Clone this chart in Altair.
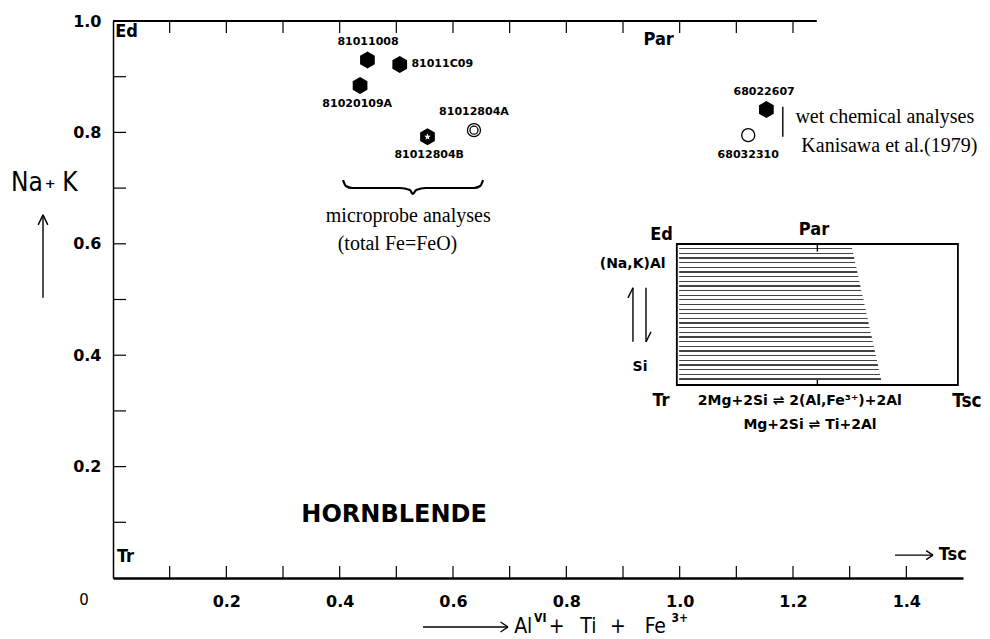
import altair as alt
import pandas as pd

# ---------------- axes ----------------
x_domain = [0.0, 1.5]
y_domain = [0.0, 1.0]
x_label_values = [0.2, 0.4, 0.6, 0.8, 1.0, 1.2, 1.4]
y_label_values = [0.2, 0.4, 0.6, 0.8, 1.0]
bottom_tick_values = [0.1, 0.2, 0.3, 0.4, 0.5, 0.6, 0.7, 0.8, 0.9, 1.0, 1.1, 1.2, 1.3, 1.4]
top_tick_values = [0.1, 0.2, 0.3, 0.4, 0.5, 0.6, 0.7, 0.8, 0.9, 1.0, 1.1, 1.2]
left_tick_values = [0.1, 0.2, 0.3, 0.4, 0.5, 0.6, 0.7, 0.8, 0.9]

# ---------------- samples ----------------
sample_ids = ["81011008", "81011C09", "81020109A", "81012804B", "81012804A", "68022607", "68032310"]
sample_x = [0.449, 0.506, 0.436, 0.555, 0.637, 1.153, 1.121]
sample_y = [0.930, 0.922, 0.884, 0.792, 0.804, 0.841, 0.795]
sample_kind = ["hex", "hex", "hex", "hexstar", "dcircle", "hex", "circle"]
sample_label_x = [0.450, 0.581, 0.431, 0.558, 0.637, 1.149, 1.121]
sample_label_y = [0.962, 0.922, 0.851, 0.759, 0.836, 0.873, 0.759]

# ---------------- annotation texts ----------------
corner_text = ["Ed", "Par", "Tr", "Tsc", "Ed", "Par", "Tr"]
corner_x = [0.024, 0.963, 0.022, 1.482, 0.968, 1.237, 0.967]
corner_y = [0.981, 0.965, 0.037, 0.041, 0.616, 0.625, 0.317]

inset_tsc_text = ["Tsc"]
inset_tsc_x = [1.507]
inset_tsc_y = [0.317]

inset_text = ["(Na,K)Al", "Si", "2Mg+2Si \u21cc 2(Al,Fe\u00b3\u207a)+2Al", "Mg+2Si \u21cc Ti+2Al"]
inset_x = [0.917, 0.930, 1.212, 1.230]
inset_y = [0.563, 0.379, 0.317, 0.275]

serif_text = ["microprobe analyses", "(total Fe=FeO)", "wet chemical analyses", "Kanisawa et al.(1979)"]
serif_x = [0.521, 0.502, 1.362, 1.370]
serif_y = [0.650, 0.600, 0.828, 0.776]

mineral_text = ["HORNBLENDE"]
mineral_x = [0.496]
mineral_y = [0.113]

xtitle_text = ["Al", "+", "Ti", "+", "Fe"]
xtitle_x = [0.724, 0.783, 0.839, 0.891, 0.957]
xtitle_y = [-0.088, -0.088, -0.088, -0.088, -0.088]
xsup_text = ["VI", "3+"]
xsup_x = [0.754, 1.000]
xsup_y = [-0.071, -0.071]

ytitle_text = ["Na", "K"]
ytitle_x = [-0.152, -0.076]
ytitle_y = [0.710, 0.710]
yplus_text = ["+"]
yplus_x = [-0.111]
yplus_y = [0.708]

origin_text = ["0"]
origin_x = [-0.051]
origin_y = [-0.039]

# ---------------- annotation strokes (data units) ----------------
seg_x1 = [-0.1235, -0.132, -0.115, 0.547, 0.684, 0.684, 1.380, 1.435, 1.435,
          0.9176, 0.9088, 0.9406, 0.9494, 1.182, 1.243, 1.243]
seg_y1 = [0.503, 0.634, 0.634, -0.088, -0.079, -0.097, 0.041, 0.049, 0.033,
          0.424, 0.503, 0.521, 0.442, 0.846, 0.600, 0.3465]
seg_x2 = [-0.1235, -0.1235, -0.1235, 0.697, 0.697, 0.697, 1.447, 1.447, 1.447,
          0.9176, 0.9176, 0.9406, 0.9406, 1.182, 1.243, 1.243]
seg_y2 = [0.652, 0.652, 0.652, -0.088, -0.088, -0.088, 0.041, 0.041, 0.041,
          0.521, 0.521, 0.424, 0.424, 0.792, 0.586, 0.3555]

top_border_x = [0.0]
top_border_x2 = [1.242]
top_border_y = [1.0]

brace_x = [0.406, 0.411, 0.422, 0.506, 0.524, 0.529, 0.535, 0.552, 0.637, 0.648, 0.653]
brace_y = [0.7145, 0.7038, 0.7002, 0.7002, 0.6966, 0.6894, 0.6966, 0.7002, 0.7002, 0.7038, 0.7145]

inset_box = {"x": [0.995], "x2": [1.491], "y": [0.3465], "y2": [0.5996]}
hatch_y = [0.5925, 0.3501]
hatch_left = [0.999, 0.999]
hatch_right = [1.304, 1.357]
hatch_lines = 29

# ---------------- helpers ----------------
SANS = "DejaVu Sans"
NARROW = "'Liberation Sans Narrow', 'DejaVu Sans Condensed', 'Liberation Sans'"
SERIF = "Liberation Serif"

XS = alt.Scale(domain=x_domain, nice=False, zero=False)
YS = alt.Scale(domain=y_domain, nice=False, zero=False)
XAXIS = alt.Axis(
    values=x_label_values, format=".1f", ticks=False, tickSize=0, grid=False,
    domainColor="black", domainWidth=2.3, labelFont=SANS, labelFontWeight="bold",
    labelFontSize=16, labelColor="black", labelPadding=15, labelFlush=False,
    labelOverlap=False, title=None)
YAXIS = alt.Axis(
    values=y_label_values, format=".1f", ticks=False, tickSize=0, grid=False,
    domainColor="black", domainWidth=1.5, labelFont=SANS, labelFontWeight="bold",
    labelFontSize=16, labelColor="black", labelPadding=12, labelFlush=False,
    labelOverlap=False, title=None)


def tx(field="x"):
    return alt.X(f"{field}:Q", scale=XS, axis=XAXIS)


def ty(field="y"):
    return alt.Y(f"{field}:Q", scale=YS, axis=YAXIS)


def text_layer(texts, xs, ys, font, size, weight="normal", align="center"):
    df = pd.DataFrame({"t": texts, "x": xs, "y": ys})
    return alt.Chart(df).mark_text(
        font=font, fontSize=size, fontWeight=weight, align=align,
        baseline="middle", color="black"
    ).encode(x=tx(), y=ty(), text="t:N")


samples = pd.DataFrame({"id": sample_ids, "x": sample_x, "y": sample_y,
                        "kind": sample_kind, "lx": sample_label_x, "ly": sample_label_y})

HEX = "M0,-1L0.866,-0.5L0.866,0.5L0,1L-0.866,0.5L-0.866,-0.5Z"
STAR = ("M0,-1L0.235,-0.324L0.951,-0.309L0.380,0.124L0.588,0.809L0,0.4"
        "L-0.588,0.809L-0.380,0.124L-0.951,-0.309L-0.235,-0.324Z")

# ticks (inward)
bt = alt.Chart(pd.DataFrame({"v": bottom_tick_values})).mark_rule(color="black", strokeWidth=1.2).encode(
    x=tx("v"), y=alt.value(557), y2=alt.value(545))
tt = alt.Chart(pd.DataFrame({"v": top_tick_values})).mark_rule(color="black", strokeWidth=1.2).encode(
    x=tx("v"), y=alt.value(0), y2=alt.value(12))
lt = alt.Chart(pd.DataFrame({"v": left_tick_values})).mark_rule(color="black", strokeWidth=1.2).encode(
    y=ty("v"), x=alt.value(0), x2=alt.value(13))

top_border = alt.Chart(pd.DataFrame({"x": top_border_x, "x2": top_border_x2, "y": top_border_y})).mark_rule(
    color="black", strokeWidth=2.2).encode(x=tx(), x2="x2:Q", y=ty())

segs = alt.Chart(pd.DataFrame({"x": seg_x1, "y": seg_y1, "x2": seg_x2, "y2": seg_y2})).mark_rule(
    color="black", strokeWidth=1.4).encode(x=tx(), y=ty(), x2="x2:Q", y2="y2:Q")

brace = alt.Chart(pd.DataFrame({"x": brace_x, "y": brace_y, "o": list(range(len(brace_x)))})).mark_line(
    color="black", strokeWidth=2.2, interpolate="monotone").encode(x=tx(), y=ty(), order="o:Q")

# hatched region of the inset (striped gradient fill)
stops = []
for i in range(hatch_lines):
    a = i / hatch_lines
    b = (i + 0.28) / hatch_lines
    c = (i + 1) / hatch_lines
    stops += [{"offset": a, "color": "#444444"}, {"offset": b, "color": "#444444"},
              {"offset": b, "color": "white"}, {"offset": c, "color": "white"}]
grad = {"gradient": "linear", "x1": 0, "y1": 0, "x2": 0, "y2": 1, "stops": stops}
hatch = alt.Chart(pd.DataFrame({"y": hatch_y, "x": hatch_left, "x2": hatch_right})).mark_area(
    orient="horizontal", color=grad, opacity=1).encode(y=ty(), x=tx(), x2="x2:Q")

box = alt.Chart(pd.DataFrame(inset_box)).mark_rect(filled=False, color="black", strokeWidth=1.8).encode(
    x=tx(), x2="x2:Q", y=ty(), y2="y2:Q")

hexes = alt.Chart(samples).transform_filter(
    alt.FieldOneOfPredicate(field="kind", oneOf=["hex", "hexstar"])
).mark_point(shape=HEX, filled=True, color="black", size=289, opacity=1).encode(x=tx(), y=ty())
stars = alt.Chart(samples).transform_filter(alt.datum.kind == "hexstar").mark_point(
    shape=STAR, filled=True, color="white", size=49, opacity=1).encode(x=tx(), y=ty())
outer_c = alt.Chart(samples).transform_filter(
    alt.FieldOneOfPredicate(field="kind", oneOf=["dcircle", "circle"])
).mark_point(shape="circle", filled=False, color="black", strokeWidth=1.3, size=170, opacity=1).encode(
    x=tx(), y=ty())
inner_c = alt.Chart(samples).transform_filter(alt.datum.kind == "dcircle").mark_point(
    shape="circle", filled=False, color="black", strokeWidth=1.3, size=64, opacity=1).encode(x=tx(), y=ty())

sample_labels = alt.Chart(samples).mark_text(
    font=SANS, fontSize=11, fontWeight="bold", align="center", baseline="middle", color="black"
).encode(x=tx("lx"), y=ty("ly"), text="id:N")

layers = [
    bt, tt, lt, top_border, hatch, box, segs, brace,
    hexes, stars, outer_c, inner_c, sample_labels,
    text_layer(corner_text, corner_x, corner_y, NARROW, 18, "bold"),
    text_layer(inset_tsc_text, inset_tsc_x, inset_tsc_y, NARROW, 19, "bold"),
    text_layer(inset_text, inset_x, inset_y, SANS, 14, "bold"),
    text_layer(serif_text, serif_x, serif_y, SERIF, 20),
    text_layer(mineral_text, mineral_x, mineral_y, SANS, 24, "bold"),
    text_layer(xtitle_text, xtitle_x, xtitle_y, NARROW, 21),
    text_layer(xsup_text, xsup_x, xsup_y, NARROW, 12, "bold"),
    text_layer(ytitle_text, ytitle_x, ytitle_y, NARROW, 26),
    text_layer(yplus_text, yplus_x, yplus_y, SANS, 13, "bold"),
    text_layer(origin_text, origin_x, origin_y, SANS, 15),
]

chart = alt.layer(*layers).properties(
    width=850, height=557,
    padding={"left": 105, "top": 13, "right": 19, "bottom": 61},
    autosize=alt.AutoSizeParams(type="none"),
    background="white",
).configure_view(strokeWidth=0)

chart.save("out.html", embed_options={"renderer": "svg", "actions": False})
